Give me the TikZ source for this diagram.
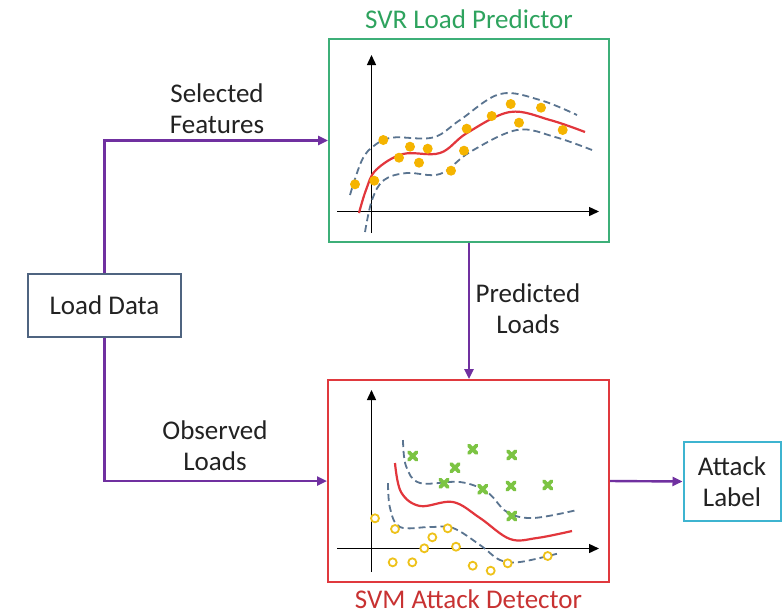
\documentclass[tikz,border=0pt]{standalone}
\usepackage{fontspec}
\setmainfont{Carlito}
\usetikzlibrary{arrows.meta}
\definecolor{arrcol}{HTML}{7030A0}
\definecolor{ldcol}{HTML}{4F6480}
\definecolor{svrcol}{HTML}{3DAF78}
\definecolor{svrtxt}{HTML}{2EA35E}
\definecolor{svmcol}{HTML}{E0393E}
\definecolor{svmtxt}{HTML}{C83232}
\definecolor{atkcol}{HTML}{3EB4D0}
\definecolor{dotcol}{HTML}{F5B400}
\definecolor{ringcol}{HTML}{EEC21A}
\definecolor{crosscol}{HTML}{7CC443}
\definecolor{dashcol}{HTML}{5A7490}
\definecolor{fitcol}{HTML}{E2363C}
\definecolor{txtcol}{HTML}{222222}
\tikzset{
  boxstyle/.style={draw, line width=2pt, fill=white, inner sep=0pt},
  arr/.style={draw=arrcol, line width=2.4pt, -{Triangle[length=10pt,width=9pt]}},
  lbl/.style={align=center, text=txtcol, font=\fontsize{27}{31}\selectfont},
  axisline/.style={line width=1.4pt, -{Triangle[length=10pt,width=9pt]}},
  fitline/.style={draw=fitcol, line width=2.2pt},
  margin/.style={draw=dashcol, line width=1.8pt, dash pattern=on 7pt off 4pt},
  ydot/.style={fill=dotcol, draw=none},
  ring/.style={draw=ringcol, line width=1.8pt, fill=white},
  xmark/.style={draw=crosscol, line width=3.8pt, line cap=round}
}
\begin{document}
\begin{tikzpicture}[x=1pt,y=-1pt]
\useasboundingbox (0,0) rectangle (783,614);

% boxes
\node[boxstyle, draw=ldcol, minimum width=153pt, minimum height=63pt, lbl] (load) at (104.5,305.5) {Load Data};
\node[boxstyle, draw=svrcol, minimum width=280pt, minimum height=203pt] (svr) at (469,140.5) {};
\node[boxstyle, draw=svmcol, minimum width=281pt, minimum height=202pt] (svm) at (468.5,481) {};
\node[boxstyle, draw=atkcol, minimum width=97pt, minimum height=79pt, lbl] (atk) at (732,481.5) {Attack\\Label};

% titles
\node[lbl, text=svrtxt] (svrtitle) at (469,19) {SVR Load Predictor};
\node[lbl, text=svmtxt, inner sep=1pt] (svmtitle) at (468.5,599) {SVM Attack Detector};

% connectors
\draw[arr] (load.north) |- (svr.west);
\draw[arr] (load.south) |- (svm.west);
\draw[arr] (svr.south) -- (svr.south |- svm.north);
\draw[arr] (svm.east) -- (atk.west);

% connector labels
\node[lbl] (selfeat) at (217,108.5) {Selected\\Features};
\node[lbl] (predl) at (528,309) {Predicted\\Loads};
\node[lbl] (obsl) at (215,446) {Observed\\Loads};

% SVR plot
\draw[axisline] (371.5,233) -- (371.5,55);
\draw[axisline] (337,211.5) -- (599,211.5);
\draw[margin] plot[smooth, tension=0.6] coordinates {(350,195) (362,160) (375,145) (393,137.5) (433,137.5) (460,120) (500,94) (540,100) (577,115)};
\draw[margin] plot[smooth, tension=0.6] coordinates {(365,232) (372,200) (384,180) (407,173) (440,174) (470,152) (517,130) (555,137) (592,150)};
\draw[fitline] plot[smooth, tension=0.6] coordinates {(359,213) (366,190) (376,170) (403,154) (440,153) (467,133) (510,112) (550,120) (585,132)};
\foreach \px/\py in {355/184.3,374.3/180.7,383.3/140,399/157.7,410/146.7,419/162.7,427.7/148.7,451/170.7,464/150.7,466.7/128.7,491.7/116,510.7/104,519/122.7,541/107.7,562.7/130}
  \fill[ydot] (\px,\py) circle (5pt);

% SVM plot
\draw[axisline] (371.5,572) -- (371.5,390);
\draw[axisline] (337,548.5) -- (599,548.5);
\draw[margin] plot[smooth, tension=0.6] coordinates {(403,440) (406,466) (420,483) (460,482) (487,492) (507,512) (533,518) (577,510)};
\draw[margin] plot[smooth, tension=0.6] coordinates {(388,483) (390,508) (400,527) (430,527) (453,528) (480,545) (500,560) (520,562) (560,553)};
\draw[fitline] plot[smooth, tension=0.6] coordinates {(395,463) (401,492) (420,506) (453,502) (480,518) (510,539) (537,538) (572,531)};
\foreach \px/\py in {412.7/456,472.7/449.3,511.7/455,455/467.7,444/483.3,482.7/489.3,511/486,547.7/485,511.7/516}
  \draw[xmark] (\px-3.8,\py-3.8) -- (\px+3.8,\py+3.8) (\px-3.8,\py+3.8) -- (\px+3.8,\py-3.8);
\foreach \px/\py in {375/518.3,395/529,447.7/528.3,432.3/537.3,424.3/548.3,456/546.7,392.7/562.3,412.3/562.3,472.7/565.7,490.7/570.7,507.7/563.3,547.7/556}
  \draw[ring] (\px,\py) circle (4pt);
\end{tikzpicture}
\end{document}
